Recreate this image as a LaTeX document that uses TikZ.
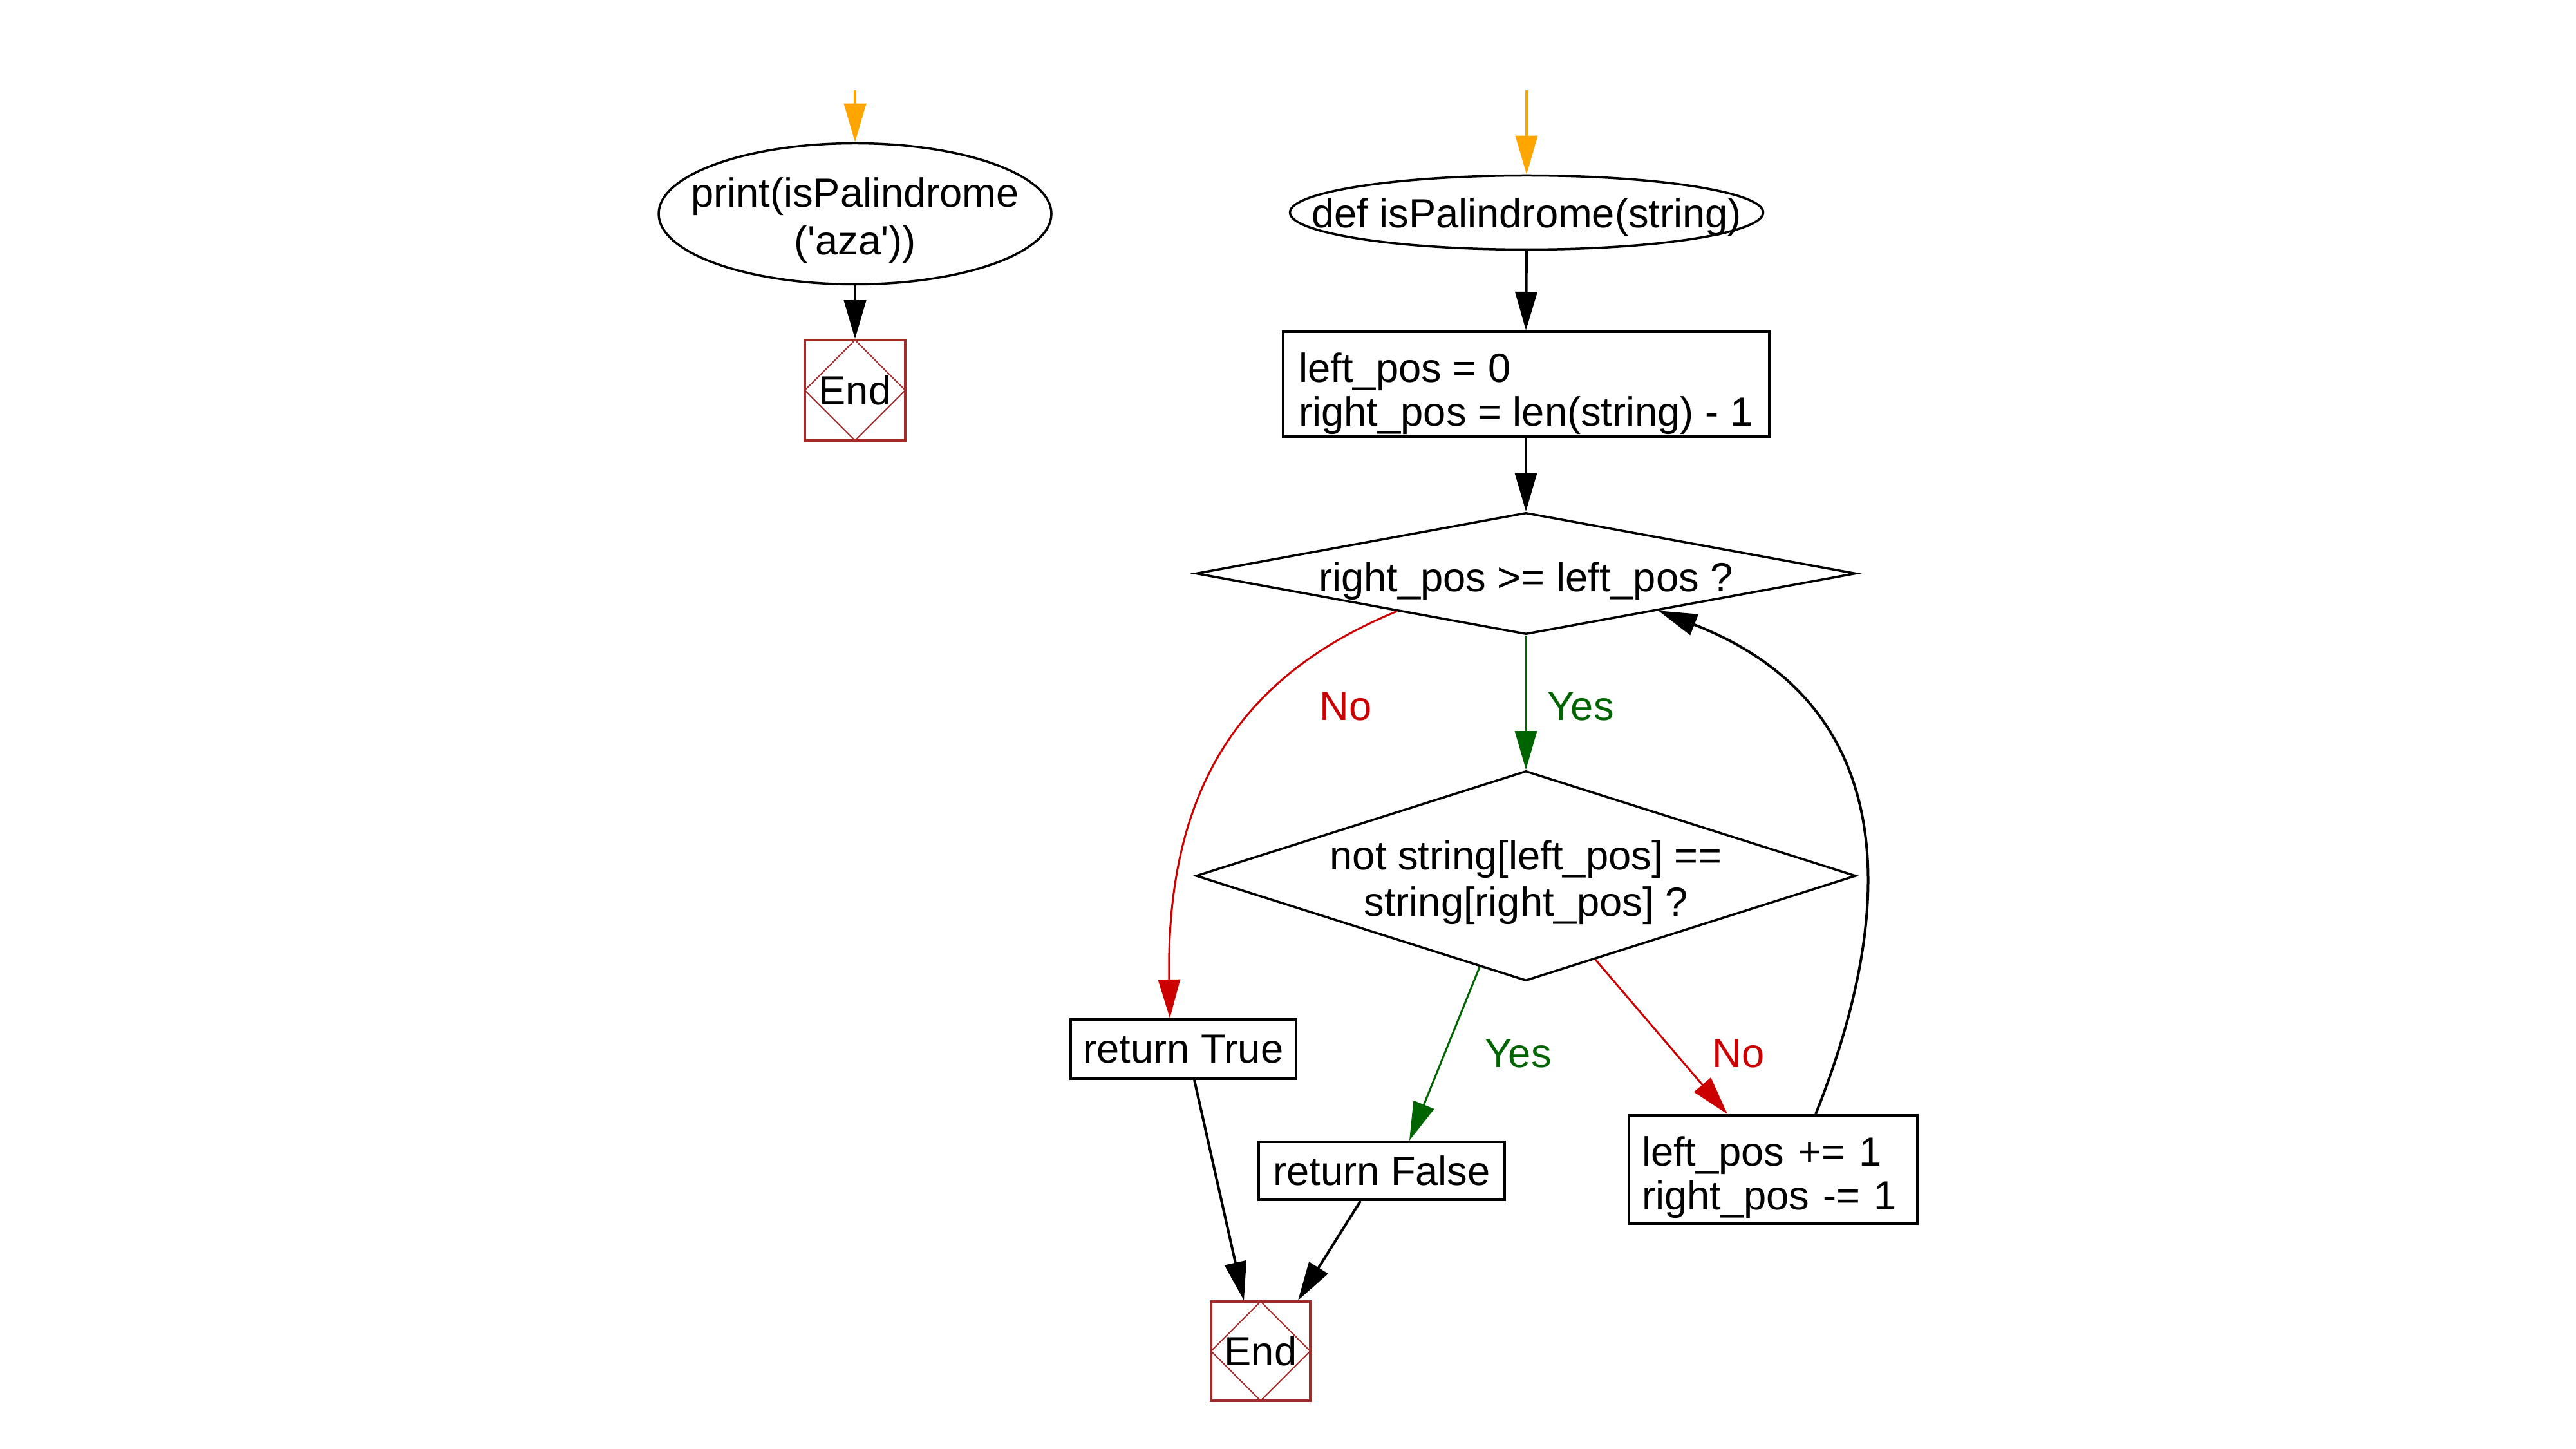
\documentclass[tikz,border=0pt]{standalone}
\usepackage{fontspec}
\setmainfont{Liberation Sans}[Ligatures=TeXOff]
\usetikzlibrary{shapes.geometric, arrows.meta, calc}

\definecolor{flowred}{RGB}{204,0,0}
\definecolor{flowgreen}{RGB}{0,100,0}
\definecolor{floworange}{RGB}{255,165,0}
\definecolor{endbrown}{RGB}{165,42,42}

\begin{document}
\begin{tikzpicture}
	[   font=\fontsize{18}{19.4}\selectfont,
	    enode/.style={draw=black,line width=0.035cm,ellipse,inner sep=0pt},
	    bnode/.style={draw=black,line width=0.04cm,rectangle,inner sep=0pt,align=left},
	    dnode/.style={draw=black,line width=0.035cm,diamond,inner sep=0pt},
	    endnode/.style={draw=endbrown,line width=0.035cm,rectangle,minimum size=#1,inner sep=0pt,
	        path picture={\draw[endbrown,line width=0.02cm] (path picture bounding box.north) -- (path picture bounding box.east) -- (path picture bounding box.south) -- (path picture bounding box.west) -- cycle;}},
	]
	\tikzset{normal arrow/.style={draw,line width=0.04cm,-{Triangle[length=0.6cm,width=0.34cm]}}}
	\tikzset{start arrow/.style={normal arrow,draw=floworange,fill=floworange}}
	\tikzset{yes arrow/.style={normal arrow,draw=flowgreen,line width=0.03cm}}
	\tikzset{no arrow/.style={normal arrow,draw=flowred,line width=0.03cm}}
	\useasboundingbox (0,0) rectangle (40.01,-22.5);
	
	% main call
	\node[enode,minimum width=6.10cm,minimum height=2.19cm,label={[align=center,yshift=-0.1cm]center:{print(isPalindrome\\[0.06cm]('aza'))}}] (call) at (13.28,-3.32) {};
	\node[endnode=1.56cm] (end-1) at (13.28,-6.06) {End};
	\coordinate (start-1) at (13.28,-1.40);
	
	% function
	\node[enode,minimum width=7.35cm,minimum height=1.15cm,label={[yshift=-0.07cm]center:{def isPalindrome(string)}}] (def) at (23.71,-3.30) {};
	\coordinate (start-2) at (23.71,-1.40);
	\node[bnode,minimum width=7.55cm,minimum height=1.63cm,label={[align=left,yshift=-0.15cm]center:{left\_pos = 0\\right\_pos = len(string) - 1}}] (init) at (23.70,-5.965) {};
	\node[dnode,minimum width=10.25cm,minimum height=1.89cm,label={[yshift=-0.12cm]center:{right\_pos >= left\_pos ?}}] (d-1) at (23.70,-8.905) {};
	\node[dnode,minimum width=10.25cm,minimum height=3.26cm,label={[align=center,yshift=-0.1cm]center:{not string[left\_pos] ==\\[0.04cm]string[right\_pos] ?}}] (d-2) at (23.70,-13.60) {};
	\node[bnode,minimum width=3.50cm,minimum height=0.92cm] (rtrue) at (18.38,-16.29) {return True};
	\node[bnode,minimum width=3.82cm,minimum height=0.90cm] (rfalse) at (21.46,-18.18) {return False};
	\node[bnode,minimum width=4.48cm,minimum height=1.68cm,label={[align=left,text width=4.08cm,yshift=-0.12cm]center:{left\_pos += 1\\right\_pos -= 1}}] (step) at (27.54,-18.16) {};
	\node[endnode=1.54cm] (end-2) at (19.58,-20.98) {End};
	
	% branch labels
	\node[text=flowred] (no-1) at (20.90,-10.97) {No};
	\node[text=flowgreen] (yes-1) at (24.55,-10.97) {Yes};
	\node[text=flowgreen] (yes-2) at (23.58,-16.36) {Yes};
	\node[text=flowred] (no-2) at (27.00,-16.36) {No};
	
	\path[start arrow] (start-1) -- (call.north);
	\path[normal arrow] (call.south) -- (end-1.north);
	\path[start arrow] (start-2) -- (def.north);
	\path[normal arrow] (def.south) -- (init.north);
	\path[normal arrow] (init.south) -- (d-1.north);
	\path[yes arrow] (d-1.south) -- (d-2.north);
	\path[no arrow] ($(d-1.south)!0.39!(d-1.west)$) .. controls (19.50,-10.40) and (18.10,-12.00) .. ([xshift=-0.21cm]rtrue.north);
	\path[yes arrow] ($(d-2.south)!0.14!(d-2.west)$) -- ([xshift=0.43cm]rfalse.north);
	\path[no arrow] ($(d-2.south)!0.21!(d-2.east)$) -- ([xshift=-0.71cm]step.north);
	\path[normal arrow] ([xshift=0.66cm]step.north) .. controls (29.40,-14.30) and (29.65,-11.00) .. ($(d-1.south)!0.40!(d-1.east)$);
	\path[normal arrow] ([xshift=0.17cm]rtrue.south) -- ([xshift=-0.26cm]end-2.north);
	\path[normal arrow] ([xshift=-0.33cm]rfalse.south) -- ([xshift=0.58cm]end-2.north);
\end{tikzpicture}
\end{document}
